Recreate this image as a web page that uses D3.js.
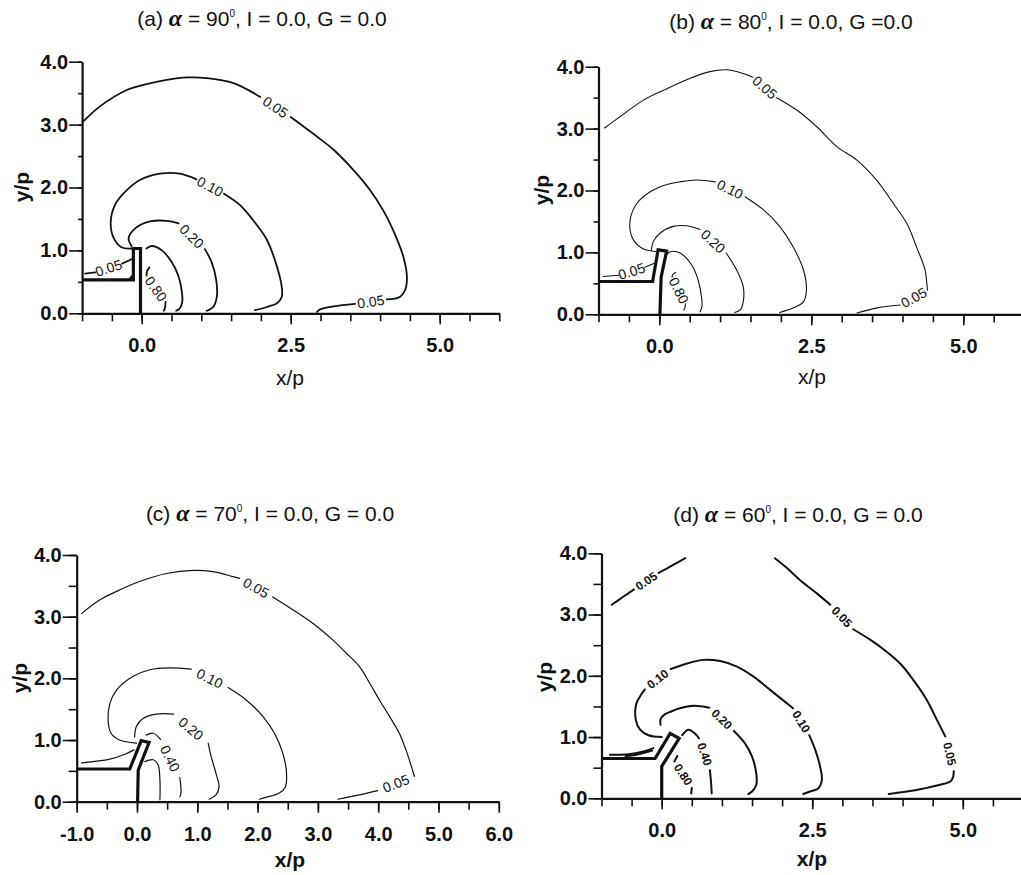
<!DOCTYPE html>
<html>
<head>
<meta charset="utf-8">
<script src="https://cdn.jsdelivr.net/npm/d3@7"></script>
<style>
  body { margin: 0; background: #fff; }
  svg { display: block; }
</style>
</head>
<body>
<svg id="fig" width="1021" height="875"></svg>
<script>
// ---- panel headings -------------------------------------------------------
const panelTags   = ["(a)", "(b)", "(c)", "(d)"];
const slotAngles  = ["90", "80", "70", "60"];
const titleTails  = [", I = 0.0, G = 0.0", ", I = 0.0, G =0.0", ", I = 0.0, G = 0.0", ", I = 0.0, G = 0.0"];

// ---- axis ticks -----------------------------------------------------------
const xMinorTicks   = d3.range(-1, 6.001, 0.5);
const yMinorTicks   = d3.range(0, 4.001, 0.5);
const xLabelsSparse = [0, 2.5, 5];
const xLabelsFull   = [-1, 0, 1, 2, 3, 4, 5, 6];
const yLabels       = [0, 1, 2, 3, 4];

// ---- (a) alpha = 90 : contour pieces, each list of [x/p, y/p] -------------
const aLevel005 = [
  [[-0.98,3.05],[-0.70,3.29],[-0.25,3.55],[0.03,3.63],[0.42,3.71],[0.76,3.75],[1.09,3.74],[1.54,3.66],[1.99,3.44]],
  [[2.50,3.12],[2.94,2.81],[3.22,2.60],[3.55,2.28],[3.83,1.96],[4.05,1.64],[4.22,1.32],[4.39,0.90],[4.45,0.58],[4.42,0.37],[4.33,0.26],[4.11,0.22]],
  [[3.58,0.15],[3.22,0.11],[2.99,0.06],[2.94,0.02]]
];
const aLevel005Left = [
  [[-0.95,0.63],[-0.78,0.65]],
  [[-0.33,0.79],[-0.17,0.86]]
];
const aLevel010 = [
  [[-0.17,1.03],[-0.34,1.05],[-0.48,1.22],[-0.52,1.45],[-0.45,1.72],[-0.28,1.93],[-0.03,2.12],[0.31,2.22],[0.64,2.22],[0.92,2.13]],
  [[1.38,1.90],[1.65,1.72],[1.87,1.48],[2.10,1.17],[2.27,0.74],[2.35,0.42],[2.35,0.26],[2.27,0.16],[2.10,0.10],[1.90,0.05]]
];
const aLevel020 = [
  [[-0.17,1.07],[-0.22,1.19],[-0.11,1.35],[0.14,1.46],[0.42,1.47],[0.62,1.43]],
  [[1.06,1.02],[1.17,0.82],[1.25,0.53],[1.26,0.26],[1.20,0.10],[1.09,0.04]]
];
const aLevel040 = [
  [[0.08,1.03],[0.17,1.07],[0.34,1.00],[0.50,0.82],[0.61,0.61],[0.67,0.37],[0.68,0.18],[0.64,0.08],[0.58,0.04]]
];
const aLevel080 = [
  [[0.13,0.73],[0.09,0.67],[0.08,0.60]],
  [[0.40,0.18],[0.39,0.08],[0.37,0.04]]
];
const aSlot = [[-1,0.53],[-0.14,0.53],[-0.14,1.03],[-0.02,1.03],[-0.02,0]];
const aSpot = [[-0.23,0.53],[-0.14,0.53],[-0.14,0.63]];

// ---- (b) alpha = 80 -------------------------------------------------------
const bLevel005 = [
  [[-0.90,3.01],[-0.65,3.19],[-0.26,3.46],[0.07,3.62],[0.50,3.81],[0.83,3.92],[1.11,3.95],[1.38,3.89],[1.54,3.83]],
  [[1.93,3.50],[2.26,3.30],[2.59,3.03],[2.92,2.71],[3.25,2.49],[3.57,2.17],[3.85,1.79],[4.07,1.47],[4.23,1.09],[4.37,0.72],[4.40,0.50],[4.41,0.39]],
  [[3.96,0.15],[3.57,0.10],[3.25,0.02]]
];
const bLevel005Left = [
  [[-0.92,0.61],[-0.67,0.63]],
  [[-0.24,0.76],[-0.09,0.82]]
];
const bLevel010 = [
  [[-0.04,1.01],[-0.29,1.07],[-0.45,1.25],[-0.48,1.52],[-0.37,1.79],[-0.15,1.98],[0.10,2.09],[0.34,2.14],[0.61,2.17],[0.92,2.14]],
  [[1.41,1.90],[1.71,1.69],[1.98,1.42],[2.20,1.09],[2.37,0.72],[2.42,0.39],[2.37,0.20],[2.20,0.10],[1.98,0.03]]
];
const bLevel020 = [
  [[-0.13,1.04],[-0.10,1.17],[0.01,1.31],[0.23,1.42],[0.45,1.43],[0.67,1.37]],
  [[1.10,0.99],[1.27,0.72],[1.38,0.45],[1.38,0.20],[1.33,0.07],[1.24,0.03]]
];
const bLevel040 = [
  [[0.12,0.96],[0.18,1.01],[0.34,0.99],[0.53,0.80],[0.64,0.55],[0.70,0.23],[0.70,0.12],[0.67,0.04]]
];
const bLevel080 = [
  [[0.27,0.68],[0.22,0.64],[0.21,0.60]],
  [[0.43,0.17],[0.42,0.10],[0.40,0.07]]
];
const bSlot = [[-1,0.53],[-0.11,0.53],[-0.02,1.04],[0.12,1.02],[0.03,0.60],[0.01,0]];

// ---- (c) alpha = 70 -------------------------------------------------------
const cLevel005 = [
  [[-0.92,3.05],[-0.62,3.27],[-0.34,3.41],[0.04,3.57],[0.49,3.70],[0.93,3.75],[1.26,3.73],[1.59,3.65],[1.70,3.62]],
  [[2.25,3.32],[2.59,3.11],[2.92,2.89],[3.25,2.62],[3.47,2.41],[3.69,2.19],[3.86,1.92],[4.02,1.65],[4.19,1.38],[4.35,1.11],[4.46,0.84],[4.57,0.51],[4.60,0.41]],
  [[3.99,0.18],[3.69,0.11],[3.33,0.04]]
];
const cLevel005Left = [
  [[-0.92,0.63],[-0.45,0.69],[-0.20,0.77],[-0.05,0.84]]
];
const cLevel010 = [
  [[-0.01,0.95],[-0.29,1.00],[-0.43,1.11],[-0.48,1.32],[-0.45,1.59],[-0.34,1.81],[-0.07,2.03],[0.21,2.14],[0.54,2.17],[0.90,2.15]],
  [[1.51,1.85],[1.81,1.65],[2.09,1.38],[2.28,1.11],[2.42,0.78],[2.48,0.46],[2.46,0.24],[2.36,0.14],[2.14,0.07],[2.03,0.04]]
];
const cLevel020 = [
  [[-0.04,1.05],[-0.01,1.22],[0.10,1.35],[0.32,1.42],[0.61,1.42]],
  [[1.18,0.95],[1.23,0.73],[1.31,0.46],[1.36,0.24],[1.31,0.11],[1.20,0.04]]
];
const cLevel040 = [
  [[0.15,1.08],[0.27,1.11],[0.39,1.01]],
  [[0.71,0.39],[0.73,0.14],[0.71,0.08]]
];
const cLevel080 = [
  [[0.13,0.65],[0.27,0.68],[0.35,0.60],[0.38,0.35],[0.38,0.03]]
];
const cSlot = [[-1,0.53],[-0.12,0.53],[0.07,0.99],[0.20,0.96],[0.02,0.51],[0.01,0]];

// ---- (d) alpha = 60 -------------------------------------------------------
const dLevel005Upper = [
  [[-0.83,3.16],[-0.64,3.29],[-0.46,3.41]],
  [[-0.05,3.68],[0.19,3.81],[0.39,3.92]]
];
const dLevel005 = [
  [[1.88,3.92],[2.08,3.76],[2.30,3.56],[2.57,3.35],[2.80,3.16]],
  [[3.18,2.76],[3.46,2.59],[3.74,2.39],[3.96,2.20],[4.18,1.93],[4.40,1.61],[4.57,1.28],[4.71,1.01]],
  [[4.85,0.44],[4.84,0.35],[4.80,0.28],[4.62,0.22],[4.35,0.16],[4.07,0.11],[3.77,0.07]]
];
const dLevel005Left = [
  [[-0.86,0.71],[-0.55,0.72],[-0.32,0.76],[-0.14,0.82]],
  [[-0.60,0.69],[-0.38,0.72],[-0.16,0.78]]
];
const dLevel010 = [
  [[0.00,1.00],[-0.22,1.03],[-0.36,1.12],[-0.43,1.28],[-0.42,1.55],[-0.33,1.71],[-0.28,1.78]],
  [[0.15,2.11],[0.42,2.20],[0.69,2.26],[0.97,2.24],[1.25,2.15],[1.52,1.99],[1.80,1.77],[2.08,1.55],[2.18,1.47]],
  [[2.45,1.03],[2.55,0.79],[2.63,0.52],[2.66,0.30],[2.60,0.16],[2.46,0.11],[2.35,0.07]]
];
const dLevel020 = [
  [[-0.02,1.20],[-0.02,1.29],[0.05,1.37],[0.14,1.41],[0.30,1.47],[0.53,1.51],[0.79,1.48]],
  [[1.20,1.10],[1.38,0.90],[1.50,0.68],[1.57,0.41],[1.57,0.22],[1.50,0.11],[1.44,0.07]]
];
const dLevel040 = [
  [[0.34,1.03],[0.44,1.12],[0.55,1.06],[0.62,0.98]],
  [[0.80,0.46],[0.82,0.25],[0.83,0.08]]
];
const dLevel080 = [
  [[0.26,0.69],[0.21,0.60]],
  [[0.50,0.17],[0.49,0.08]]
];
const dSlot = [[-1,0.65],[-0.11,0.65],[0.14,1.06],[0.29,0.98],[0.00,0.52],[0.00,0]];

// ---- assemble panels ------------------------------------------------------
const panels = [
  { contours: [
      {level:"0.05", pieces:aLevel005}, {level:"0.05", pieces:aLevel005Left},
      {level:"0.10", pieces:aLevel010}, {level:"0.20", pieces:aLevel020},
      {level:null, pieces:aLevel040},   {level:"0.80", pieces:aLevel080}],
    slot: aSlot, spot: aSpot, xLabels: xLabelsSparse,
    frame: {left:82.1, right:499.3, top:61.7, bottom:313.3},
    title: {x:262, y:26}, xTitle: {x:290, y:385, bold:false}, yTitle: {x:29, y:187},
    lineW: 1.8, labelSize: 14, labelWeight: "normal", yMinorLen: 4, yMajorLen: 13 },
  { contours: [
      {level:"0.05", pieces:bLevel005}, {level:"0.05", pieces:bLevel005Left},
      {level:"0.10", pieces:bLevel010}, {level:"0.20", pieces:bLevel020},
      {level:null, pieces:bLevel040},   {level:"0.80", pieces:bLevel080}],
    slot: bSlot, spot: null, xLabels: xLabelsSparse,
    frame: {left:598.5, right:1024.1, top:66.7, bottom:314.3},
    title: {x:791, y:29}, xTitle: {x:812, y:384, bold:false}, yTitle: {x:549, y:190},
    lineW: 1.1, labelSize: 14, labelWeight: "normal", yMinorLen: 5, yMajorLen: 13 },
  { contours: [
      {level:"0.05", pieces:cLevel005}, {level:null, pieces:cLevel005Left},
      {level:"0.10", pieces:cLevel010}, {level:"0.20", pieces:cLevel020},
      {level:"0.40", pieces:cLevel040}, {level:null, pieces:cLevel080}],
    slot: cSlot, spot: null, xLabels: xLabelsFull,
    frame: {left:76.7, right:498.8, top:555, bottom:801.7},
    title: {x:270, y:521}, xTitle: {x:290, y:867, bold:true}, yTitle: {x:27, y:678},
    lineW: 1.2, labelSize: 14, labelWeight: "normal", yMinorLen: 8, yMajorLen: 14 },
  { contours: [
      {level:"0.05", pieces:dLevel005Upper}, {level:"0.05", pieces:dLevel005},
      {level:null, pieces:dLevel005Left},
      {level:"0.10", pieces:dLevel010}, {level:"0.20", pieces:dLevel020},
      {level:"0.40", pieces:dLevel040}, {level:"0.80", pieces:dLevel080}],
    slot: dSlot, spot: null, xLabels: xLabelsSparse,
    frame: {left:601.5, right:1023, top:553.3, bottom:798.3},
    title: {x:798, y:522}, xTitle: {x:812, y:866, bold:true}, yTitle: {x:552, y:677},
    lineW: 2.0, labelSize: 12, labelWeight: "bold", yMinorLen: 8, yMajorLen: 13 }
];

const svg = d3.select("#fig");
const ink = "#111";
const fontFam = "'Liberation Sans', Arial, Helvetica, sans-serif";
const fmt = d => d3.format(".1f")(d).replace("\u2212", "-");

panels.forEach((p, i) => {
  const f = p.frame;
  const x = d3.scaleLinear().domain([-1, 6]).range([f.left, f.right]);
  const y = d3.scaleLinear().domain([0, 4]).range([f.bottom, f.top]);
  const g = svg.append("g").attr("class", "panel-" + i);

  // title: "(a) α = 90°, I = 0.0, G = 0.0"
  const t = g.append("text")
    .attr("x", p.title.x).attr("y", p.title.y)
    .attr("text-anchor", "middle")
    .attr("font-family", fontFam).attr("font-size", 21).attr("fill", ink);
  t.append("tspan").text(panelTags[i] + " ");
  t.append("tspan").attr("font-family", "'Liberation Serif', 'DejaVu Serif', serif")
    .attr("font-style", "italic").attr("font-weight", "bold").attr("font-size", 24).text("α");
  t.append("tspan").text(" = " + slotAngles[i]);
  t.append("tspan").attr("font-size", 10).attr("dy", -9).text("0");
  t.append("tspan").attr("dy", 9).text(titleTails[i]);

  // x axis: minor ticks every 0.5, longer labelled ticks
  const xMinor = g.append("g").attr("transform", `translate(0,${f.bottom})`)
    .call(d3.axisBottom(x).tickValues(xMinorTicks).tickSize(8).tickSizeOuter(0).tickFormat(""));
  const xMajor = g.append("g").attr("transform", `translate(0,${f.bottom})`)
    .call(d3.axisBottom(x).tickValues(p.xLabels).tickSize(11).tickSizeOuter(0)
      .tickPadding(14).tickFormat(fmt));
  xMajor.select(".domain").remove();

  // y axis
  const yMinor = g.append("g").attr("transform", `translate(${f.left},0)`)
    .call(d3.axisLeft(y).tickValues(yMinorTicks).tickSize(p.yMinorLen).tickSizeOuter(0).tickFormat(""));
  const yMajor = g.append("g").attr("transform", `translate(${f.left},0)`)
    .call(d3.axisLeft(y).tickValues(yLabels).tickSize(p.yMajorLen).tickSizeOuter(0)
      .tickPadding(1).tickFormat(fmt));
  yMajor.select(".domain").remove();

  [xMinor, xMajor, yMinor, yMajor].forEach(a => {
    a.selectAll(".domain").attr("stroke", ink).attr("stroke-width", 2.2);
    a.selectAll(".tick line").attr("stroke", ink).attr("stroke-width", 1.6);
    a.selectAll(".tick text").attr("fill", ink)
      .attr("font-family", fontFam).attr("font-size", 20).attr("font-weight", "bold");
  });

  // axis titles
  g.append("text").attr("x", p.xTitle.x).attr("y", p.xTitle.y)
    .attr("text-anchor", "middle").attr("font-family", fontFam).attr("font-size", 21)
    .attr("font-weight", p.xTitle.bold ? "bold" : "normal").attr("fill", ink).text("x/p");
  g.append("text")
    .attr("transform", `translate(${p.yTitle.x},${p.yTitle.y}) rotate(-90)`)
    .attr("text-anchor", "middle").attr("font-family", fontFam).attr("font-size", 21)
    .attr("font-weight", "bold").attr("fill", ink).text("y/p");

  // contour lines with inline level labels sitting in the gaps
  const line = d3.line().x(d => x(d[0])).y(d => y(d[1])).curve(d3.curveCatmullRom.alpha(0.5));
  p.contours.forEach(c => {
    c.pieces.forEach(pc => {
      g.append("path").attr("d", line(pc)).attr("fill", "none")
        .attr("stroke", ink).attr("stroke-width", p.lineW)
        .attr("stroke-linejoin", "round").attr("stroke-linecap", "round");
    });
    if (!c.level) return;
    for (let k = 0; k < c.pieces.length - 1; k++) {
      const a = c.pieces[k][c.pieces[k].length - 1];
      const b = c.pieces[k + 1][0];
      const ax = x(a[0]), ay = y(a[1]), bx = x(b[0]), by = y(b[1]);
      let ang = Math.atan2(by - ay, bx - ax) * 180 / Math.PI;
      if (ang > 90) ang -= 180;
      if (ang < -90) ang += 180;
      g.append("text")
        .attr("transform", `translate(${(ax + bx) / 2},${(ay + by) / 2}) rotate(${ang})`)
        .attr("text-anchor", "middle").attr("dominant-baseline", "central")
        .attr("font-family", fontFam).attr("font-size", p.labelSize)
        .attr("font-weight", p.labelWeight).attr("fill", ink)
        .text(c.level);
    }
  });

  // slot / plate geometry
  g.append("path").attr("d", d3.line().x(d => x(d[0])).y(d => y(d[1]))(p.slot))
    .attr("fill", "none").attr("stroke", ink).attr("stroke-width", 3.2)
    .attr("stroke-linejoin", "miter");
  if (p.spot) {
    g.append("path").attr("d", d3.line().x(d => x(d[0])).y(d => y(d[1]))(p.spot) + "Z")
      .attr("fill", ink).attr("stroke", ink).attr("stroke-width", 1);
  }
});
</script>
</body>
</html>
